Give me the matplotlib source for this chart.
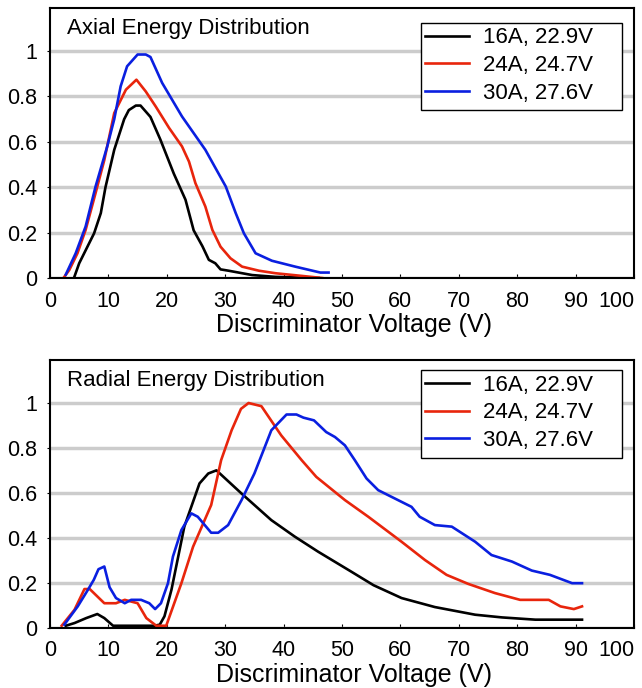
import matplotlib
matplotlib.use("Agg")
import matplotlib.pyplot as plt
from matplotlib import rcParams
from matplotlib.patches import Rectangle

rcParams['font.family'] = ['Liberation Sans', 'DejaVu Sans']

labels = ["16A, 22.9V", "24A, 24.7V", "30A, 27.6V"]
colors = ["#000000", "#e8250c", "#0a1fe0"]

# axial distribution
ax_x16 = [4.1, 5.0, 7.55, 8.7, 9.5, 11.0, 12.7, 13.5, 14.7, 15.5, 17.2, 18.9, 21.2, 23.2,
          24.6, 26.1, 27.2, 28.3, 29.2, 30.6, 34.6, 38.6, 46.0]
ax_y16 = [0.0, 0.065, 0.197, 0.286, 0.40, 0.565, 0.70, 0.74, 0.76, 0.76, 0.71, 0.61, 0.46, 0.345,
          0.21, 0.14, 0.08, 0.065, 0.038, 0.032, 0.013, 0.005, 0.0]
ax_x24 = [2.3, 3.3, 4.7, 6.1, 7.8, 9.3, 11.0, 13.0, 14.8, 16.4, 18.1, 20.4, 22.6, 23.8, 24.9,
          26.6, 27.8, 29.2, 30.9, 32.9, 35.8, 38.6, 43.2, 46.6]
ax_y24 = [0.0, 0.035, 0.109, 0.212, 0.374, 0.52, 0.727, 0.83, 0.874, 0.822, 0.756, 0.661, 0.58,
          0.513, 0.418, 0.315, 0.212, 0.138, 0.087, 0.05, 0.032, 0.021, 0.009, 0.0]
ax_x30 = [2.7, 4.4, 6.1, 7.8, 9.8, 11.0, 12.1, 13.2, 15.0, 16.4, 17.2, 19.2, 22.6, 26.6, 30.1,
          31.8, 33.2, 35.2, 38.0, 42.0, 46.3, 47.7]
ax_y30 = [0.015, 0.109, 0.227, 0.403, 0.58, 0.70, 0.845, 0.933, 0.985, 0.985, 0.974, 0.86, 0.712,
          0.565, 0.403, 0.286, 0.197, 0.109, 0.076, 0.05, 0.024, 0.024]

# radial distribution
rad_x16 = [2.7, 4.2, 6.2, 8.1, 9.3, 10.8, 17.9, 18.8, 19.6, 20.8, 23.0, 25.6, 27.1, 28.5, 32.8,
           37.9, 41.9, 45.9, 51.6, 55.4, 60.2, 65.9, 72.8, 77.4, 83.1, 91.1]
rad_y16 = [0.01, 0.022, 0.044, 0.062, 0.044, 0.01, 0.01, 0.015, 0.052, 0.17, 0.45, 0.642, 0.686,
           0.70, 0.597, 0.479, 0.406, 0.339, 0.25, 0.19, 0.133, 0.093, 0.059, 0.047, 0.037, 0.037]
rad_x24 = [2.0, 4.2, 5.9, 6.8, 9.3, 11.3, 12.8, 15.0, 16.5, 18.2, 19.9, 22.5, 24.5, 27.6, 29.3,
           31.1, 32.7, 34.0, 36.2, 39.6, 43.1, 45.6, 50.5, 54.5, 60.2, 64.2, 67.9, 71.6, 76.2,
           80.5, 85.4, 87.4, 89.7, 91.1]
rad_y24 = [0.01, 0.081, 0.173, 0.173, 0.11, 0.11, 0.125, 0.11, 0.044, 0.01, 0.01, 0.199, 0.361,
           0.546, 0.745, 0.878, 0.973, 0.999, 0.985, 0.855, 0.745, 0.671, 0.568, 0.494, 0.383,
           0.302, 0.236, 0.196, 0.155, 0.125, 0.125, 0.096, 0.084, 0.096]
rad_x30 = [2.45, 4.75, 6.5, 7.5, 8.3, 9.3, 10.2, 11.3, 12.8, 13.9, 15.6, 17.0, 18.0, 19.0, 20.2,
           21.05, 22.5, 24.2, 25.3, 27.6, 28.8, 30.5, 32.8, 35.0, 37.9, 40.5, 42.2, 43.4, 45.2,
           47.3, 48.8, 50.5, 52.2, 54.2, 56.2, 61.9, 63.3, 65.9, 68.8, 72.8, 75.6, 79.1, 82.5,
           85.6, 89.4, 91.1]
rad_y30 = [0.015, 0.096, 0.17, 0.214, 0.261, 0.273, 0.181, 0.133, 0.11, 0.125, 0.125, 0.11, 0.084,
           0.11, 0.199, 0.317, 0.435, 0.509, 0.494, 0.423, 0.423, 0.457, 0.568, 0.686, 0.878,
           0.948, 0.948, 0.934, 0.922, 0.870, 0.848, 0.811, 0.745, 0.664, 0.612, 0.538, 0.494,
           0.457, 0.45, 0.383, 0.324, 0.295, 0.255, 0.236, 0.199, 0.199]

xticks = [0, 10, 20, 30, 40, 50, 60, 70, 80, 90, 100]
yticks = [0, 0.2, 0.4, 0.6, 0.8, 1]
ytick_labels = ["0", "0.2", "0.4", "0.6", "0.8", "1"]

fig = plt.figure(figsize=(6.42, 6.88), dpi=100)
top_ax = fig.add_axes([50 / 642, 410 / 688, 584 / 642, 270 / 688])
bot_ax = fig.add_axes([50 / 642, 60 / 688, 584 / 642, 268 / 688])

# (axes, title, data, legend box bottom / top in axes fraction)
panels = [
    (top_ax, "Axial Energy Distribution",
     [(ax_x16, ax_y16), (ax_x24, ax_y24), (ax_x30, ax_y30)], 0.622, 0.946),
    (bot_ax, "Radial Energy Distribution",
     [(rad_x16, rad_y16), (rad_x24, rad_y24), (rad_x30, rad_y30)], 0.635, 0.963),
]

for ax, title, series, lb, lt in panels:
    for (x, y), c, lab in zip(series, colors, labels):
        ax.plot(x, y, color=c, lw=1.9, label=lab, solid_joinstyle='round')
    ax.set_xlim(0, 100)
    ax.set_ylim(0, 1.19)
    ax.set_xticks(xticks)
    ax.set_yticks(yticks, ytick_labels)
    ax.grid(axis='y', color='#cccccc', lw=2.5)
    ax.set_axisbelow(True)
    ax.tick_params(axis='x', direction='in', length=3, labelsize=15.5, pad=9)
    ax.tick_params(axis='y', direction='out', length=2.5, labelsize=15.5, pad=7)
    ax.get_xticklabels()[-1].set_horizontalalignment('right')
    for s in ax.spines.values():
        s.set_linewidth(1.5)
    ax.set_xlabel("Discriminator Voltage (V)", fontsize=18, labelpad=1)
    ax.xaxis.label.set_x(0.52)
    ax.text(0.029, 0.925, title, transform=ax.transAxes, fontsize=16, va='center')

    box = Rectangle((0.635, lb), 0.344, lt - lb, transform=ax.transAxes,
                    facecolor='white', edgecolor='black', lw=1.0, zorder=4)
    ax.add_patch(box)
    leg = ax.legend(loc='upper left', bbox_to_anchor=(0.642, lt - 0.018), fontsize=16,
                    handlelength=2.0, labelspacing=0.3, borderpad=0, borderaxespad=0,
                    handletextpad=0.6, frameon=False)
    leg.set_zorder(5)

fig.savefig("out.png", dpi=100)
